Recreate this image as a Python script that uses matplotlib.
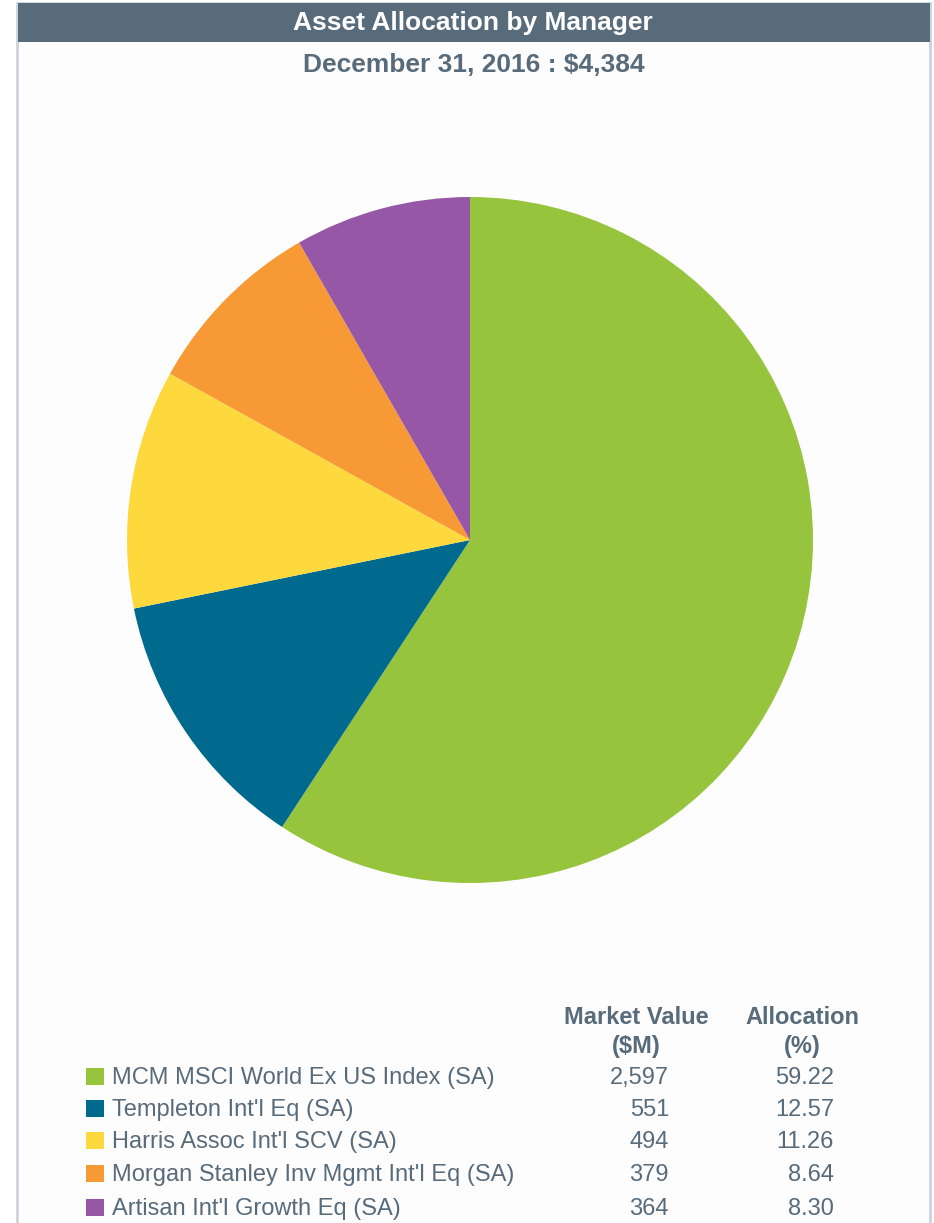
import matplotlib
matplotlib.use("Agg")
import matplotlib.pyplot as plt
from matplotlib.patches import Rectangle

plt.rcParams['font.family'] = ['Liberation Sans', 'DejaVu Sans']

title = "Asset Allocation by Manager"
subtitle = "December 31, 2016 : $4,384"
managers = ["MCM MSCI World Ex US Index (SA)", "Templeton Int'l Eq (SA)",
            "Harris Assoc Int'l SCV (SA)", "Morgan Stanley Inv Mgmt Int'l Eq (SA)",
            "Artisan Int'l Growth Eq (SA)"]
market_values = ["2,597", "551", "494", "379", "364"]
allocations = [59.22, 12.57, 11.26, 8.64, 8.30]
colors = ["#97c43d", "#006a8e", "#fdd93e", "#f79a35", "#9658a6"]

W, H = 934, 1223
fig = plt.figure(figsize=(W / 100, H / 100), dpi=100)
fig.patch.set_facecolor("white")

bg = fig.add_axes([0, 0, 1, 1])
bg.set_xlim(0, W)
bg.set_ylim(H, 0)
bg.axis("off")

text_col = "#586b7b"
border_col = "#cdd3dc"
bg.add_patch(Rectangle((17, 3), 913, H, facecolor="#fdfdfd", edgecolor=border_col, lw=2))
bg.add_patch(Rectangle((18, 3), 912, 39, facecolor="#586b7b", edgecolor="none"))
bg.text(473, 23, title, color="white", fontsize=19, fontweight="bold", ha="center", va="center")
bg.text(474, 65, subtitle, color=text_col, fontsize=19, fontweight="bold", ha="center", va="center")

cx, cy, r = 470, 540, 343
pax = fig.add_axes([(cx - r) / W, (H - cy - r) / H, 2 * r / W, 2 * r / H])
pax.pie(allocations, colors=colors, startangle=90, counterclock=False, radius=1,
        wedgeprops=dict(linewidth=0))
pax.set_xlim(-1, 1)
pax.set_ylim(-1, 1)
pax.set_aspect("equal")
pax.axis("off")

fs = 17
bg.text(636, 1018, "Market Value", color=text_col, fontsize=fs, fontweight="bold", ha="center", va="center")
bg.text(636, 1047, "($M)", color=text_col, fontsize=fs, fontweight="bold", ha="center", va="center")
bg.text(802, 1018, "Allocation", color=text_col, fontsize=fs, fontweight="bold", ha="center", va="center")
bg.text(802, 1047, "(%)", color=text_col, fontsize=fs, fontweight="bold", ha="center", va="center")
row_y = [1076, 1108, 1140, 1173, 1207]
for i, (m, v, a, c) in enumerate(zip(managers, market_values, allocations, colors)):
    y = row_y[i]
    bg.add_patch(Rectangle((86, y - 8), 18, 17, facecolor=c, edgecolor="none"))
    bg.text(112, y + 2, m, color=text_col, fontsize=fs, ha="left", va="center")
    bg.text(669, y + 2, v, color=text_col, fontsize=fs, ha="right", va="center")
    bg.text(834, y + 2, f"{a:.2f}", color=text_col, fontsize=fs, ha="right", va="center")

fig.savefig("out.png", dpi=100, facecolor="white")
